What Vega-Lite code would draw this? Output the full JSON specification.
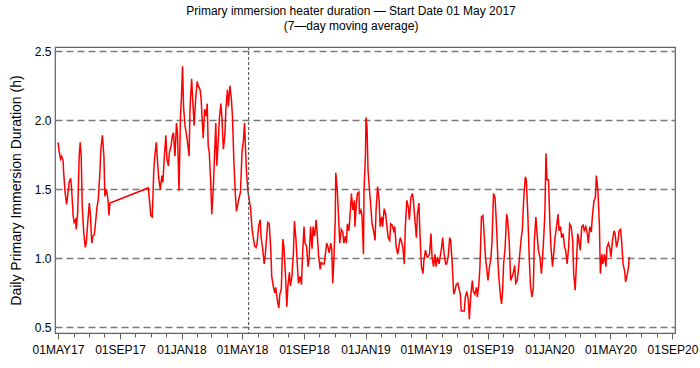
{
  "$schema": "https://vega.github.io/schema/vega-lite/v6.json",
  "autosize": "none",
  "width": 620,
  "height": 286,
  "padding": {"left": 55, "top": 47, "right": 25, "bottom": 35},
  "background": "white",
  "config": {
    "view": {"stroke": "#606060", "strokeWidth": 1.2},
    "font": "Liberation Sans"
  },
  "title": {
    "text": ["Primary immersion heater duration — Start Date 01 May 2017", "(7—day moving average)"],
    "anchor": "middle",
    "dx": -14,
    "offset": 12,
    "fontSize": 12,
    "lineHeight": 15,
    "fontWeight": "normal",
    "font": "Liberation Sans Narrow, Liberation Sans",
    "color": "black"
  },
  "datasets": {
    "series": [
      {"date": "2017-05-01", "hours": 1.84}, {"date": "2017-05-03", "hours": 1.78}, {"date": "2017-05-06", "hours": 1.72},
      {"date": "2017-05-08", "hours": 1.74}, {"date": "2017-05-11", "hours": 1.71}, {"date": "2017-05-12", "hours": 1.63},
      {"date": "2017-05-15", "hours": 1.48}, {"date": "2017-05-18", "hours": 1.39}, {"date": "2017-05-20", "hours": 1.45},
      {"date": "2017-05-23", "hours": 1.55}, {"date": "2017-05-26", "hours": 1.58}, {"date": "2017-05-28", "hours": 1.50},
      {"date": "2017-05-31", "hours": 1.31}, {"date": "2017-06-02", "hours": 1.26}, {"date": "2017-06-05", "hours": 1.28},
      {"date": "2017-06-06", "hours": 1.21}, {"date": "2017-06-09", "hours": 1.33}, {"date": "2017-06-12", "hours": 1.74},
      {"date": "2017-06-14", "hours": 1.84}, {"date": "2017-06-16", "hours": 1.74}, {"date": "2017-06-18", "hours": 1.38},
      {"date": "2017-06-21", "hours": 1.19}, {"date": "2017-06-24", "hours": 1.08}, {"date": "2017-06-26", "hours": 1.11},
      {"date": "2017-06-29", "hours": 1.26}, {"date": "2017-07-02", "hours": 1.40}, {"date": "2017-07-04", "hours": 1.33},
      {"date": "2017-07-07", "hours": 1.11}, {"date": "2017-07-09", "hours": 1.16}, {"date": "2017-07-12", "hours": 1.17},
      {"date": "2017-07-15", "hours": 1.28}, {"date": "2017-07-17", "hours": 1.36}, {"date": "2017-07-20", "hours": 1.43},
      {"date": "2017-07-23", "hours": 1.62}, {"date": "2017-07-25", "hours": 1.79}, {"date": "2017-07-28", "hours": 1.89},
      {"date": "2017-07-31", "hours": 1.74}, {"date": "2017-08-02", "hours": 1.45}, {"date": "2017-08-05", "hours": 1.50},
      {"date": "2017-08-08", "hours": 1.43}, {"date": "2017-08-10", "hours": 1.31}, {"date": "2017-08-12", "hours": 1.40},
      {"date": "2017-10-27", "hours": 1.51}, {"date": "2017-10-30", "hours": 1.40}, {"date": "2017-11-01", "hours": 1.31},
      {"date": "2017-11-04", "hours": 1.30}, {"date": "2017-11-07", "hours": 1.64}, {"date": "2017-11-09", "hours": 1.74},
      {"date": "2017-11-12", "hours": 1.84}, {"date": "2017-11-15", "hours": 1.67}, {"date": "2017-11-17", "hours": 1.57},
      {"date": "2017-11-20", "hours": 1.50}, {"date": "2017-11-23", "hours": 1.60}, {"date": "2017-11-25", "hours": 1.55},
      {"date": "2017-11-28", "hours": 1.74}, {"date": "2017-12-01", "hours": 1.89}, {"date": "2017-12-03", "hours": 1.72},
      {"date": "2017-12-06", "hours": 1.67}, {"date": "2017-12-08", "hours": 1.77}, {"date": "2017-12-11", "hours": 1.81},
      {"date": "2017-12-14", "hours": 1.89}, {"date": "2017-12-16", "hours": 1.91}, {"date": "2017-12-19", "hours": 1.74},
      {"date": "2017-12-22", "hours": 1.98}, {"date": "2017-12-24", "hours": 1.91}, {"date": "2017-12-27", "hours": 1.49},
      {"date": "2017-12-30", "hours": 2.03}, {"date": "2018-01-01", "hours": 2.18}, {"date": "2018-01-03", "hours": 2.39},
      {"date": "2018-01-05", "hours": 2.10}, {"date": "2018-01-08", "hours": 1.96}, {"date": "2018-01-11", "hours": 1.89},
      {"date": "2018-01-13", "hours": 1.84}, {"date": "2018-01-16", "hours": 1.74}, {"date": "2018-01-18", "hours": 2.10},
      {"date": "2018-01-21", "hours": 2.30}, {"date": "2018-01-24", "hours": 2.10}, {"date": "2018-01-26", "hours": 1.96},
      {"date": "2018-01-29", "hours": 2.15}, {"date": "2018-02-01", "hours": 2.28}, {"date": "2018-02-03", "hours": 2.25},
      {"date": "2018-02-07", "hours": 2.22}, {"date": "2018-02-09", "hours": 2.15}, {"date": "2018-02-11", "hours": 2.00},
      {"date": "2018-02-13", "hours": 1.87}, {"date": "2018-02-16", "hours": 2.08}, {"date": "2018-02-19", "hours": 2.03},
      {"date": "2018-02-21", "hours": 2.12}, {"date": "2018-02-23", "hours": 1.81}, {"date": "2018-02-25", "hours": 1.77},
      {"date": "2018-02-28", "hours": 1.55}, {"date": "2018-03-02", "hours": 1.32}, {"date": "2018-03-05", "hours": 1.50},
      {"date": "2018-03-08", "hours": 1.79}, {"date": "2018-03-10", "hours": 1.98}, {"date": "2018-03-12", "hours": 1.67},
      {"date": "2018-03-14", "hours": 1.79}, {"date": "2018-03-17", "hours": 2.01}, {"date": "2018-03-20", "hours": 2.12},
      {"date": "2018-03-22", "hours": 2.03}, {"date": "2018-03-25", "hours": 1.79}, {"date": "2018-03-28", "hours": 1.89},
      {"date": "2018-03-30", "hours": 2.08}, {"date": "2018-04-02", "hours": 2.22}, {"date": "2018-04-04", "hours": 2.10},
      {"date": "2018-04-07", "hours": 2.25}, {"date": "2018-04-10", "hours": 2.15}, {"date": "2018-04-12", "hours": 2.03},
      {"date": "2018-04-15", "hours": 1.69}, {"date": "2018-04-18", "hours": 1.45}, {"date": "2018-04-20", "hours": 1.34},
      {"date": "2018-04-23", "hours": 1.40}, {"date": "2018-04-26", "hours": 1.45}, {"date": "2018-04-28", "hours": 1.48},
      {"date": "2018-05-01", "hours": 1.77}, {"date": "2018-05-04", "hours": 1.86}, {"date": "2018-05-06", "hours": 1.98},
      {"date": "2018-05-08", "hours": 1.79}, {"date": "2018-05-10", "hours": 1.62}, {"date": "2018-05-13", "hours": 1.48},
      {"date": "2018-05-15", "hours": 1.43}, {"date": "2018-05-18", "hours": 1.36}, {"date": "2018-05-21", "hours": 1.21},
      {"date": "2018-05-23", "hours": 1.16}, {"date": "2018-05-26", "hours": 1.09}, {"date": "2018-05-29", "hours": 1.08},
      {"date": "2018-05-31", "hours": 1.11}, {"date": "2018-06-03", "hours": 1.23}, {"date": "2018-06-06", "hours": 1.28},
      {"date": "2018-06-08", "hours": 1.15}, {"date": "2018-06-11", "hours": 1.07}, {"date": "2018-06-14", "hours": 0.96},
      {"date": "2018-06-16", "hours": 1.02}, {"date": "2018-06-19", "hours": 1.16}, {"date": "2018-06-21", "hours": 1.26},
      {"date": "2018-06-24", "hours": 1.25}, {"date": "2018-06-27", "hours": 1.07}, {"date": "2018-06-29", "hours": 0.87},
      {"date": "2018-07-02", "hours": 0.80}, {"date": "2018-07-05", "hours": 0.75}, {"date": "2018-07-07", "hours": 0.79},
      {"date": "2018-07-10", "hours": 0.70}, {"date": "2018-07-13", "hours": 0.64}, {"date": "2018-07-15", "hours": 0.74},
      {"date": "2018-07-18", "hours": 0.78}, {"date": "2018-07-21", "hours": 1.14}, {"date": "2018-07-23", "hours": 1.09},
      {"date": "2018-07-26", "hours": 0.90}, {"date": "2018-07-29", "hours": 0.65}, {"date": "2018-07-31", "hours": 0.80},
      {"date": "2018-08-03", "hours": 0.90}, {"date": "2018-08-05", "hours": 0.80}, {"date": "2018-08-08", "hours": 0.87},
      {"date": "2018-08-11", "hours": 1.04}, {"date": "2018-08-13", "hours": 1.27}, {"date": "2018-08-16", "hours": 1.14},
      {"date": "2018-08-19", "hours": 0.94}, {"date": "2018-08-21", "hours": 0.82}, {"date": "2018-08-24", "hours": 0.87},
      {"date": "2018-08-27", "hours": 0.81}, {"date": "2018-08-29", "hours": 1.02}, {"date": "2018-09-01", "hours": 1.23},
      {"date": "2018-09-03", "hours": 1.11}, {"date": "2018-09-06", "hours": 1.09}, {"date": "2018-09-09", "hours": 0.94},
      {"date": "2018-09-11", "hours": 0.99}, {"date": "2018-09-14", "hours": 1.23}, {"date": "2018-09-17", "hours": 1.07},
      {"date": "2018-09-19", "hours": 1.23}, {"date": "2018-09-22", "hours": 1.16}, {"date": "2018-09-25", "hours": 1.28},
      {"date": "2018-09-27", "hours": 1.19}, {"date": "2018-09-30", "hours": 1.02}, {"date": "2018-10-03", "hours": 0.92},
      {"date": "2018-10-05", "hours": 0.97}, {"date": "2018-10-08", "hours": 0.96}, {"date": "2018-10-11", "hours": 0.96},
      {"date": "2018-10-13", "hours": 1.02}, {"date": "2018-10-16", "hours": 1.11}, {"date": "2018-10-18", "hours": 1.09},
      {"date": "2018-10-21", "hours": 1.04}, {"date": "2018-10-24", "hours": 1.11}, {"date": "2018-10-26", "hours": 1.07},
      {"date": "2018-10-28", "hours": 0.82}, {"date": "2018-10-30", "hours": 0.97}, {"date": "2018-11-02", "hours": 1.28},
      {"date": "2018-11-03", "hours": 1.62}, {"date": "2018-11-06", "hours": 1.50}, {"date": "2018-11-09", "hours": 1.26},
      {"date": "2018-11-11", "hours": 1.11}, {"date": "2018-11-14", "hours": 1.21}, {"date": "2018-11-17", "hours": 1.19},
      {"date": "2018-11-19", "hours": 1.11}, {"date": "2018-11-22", "hours": 1.16}, {"date": "2018-11-24", "hours": 1.11},
      {"date": "2018-11-26", "hours": 1.25}, {"date": "2018-11-29", "hours": 1.20}, {"date": "2018-12-02", "hours": 1.34},
      {"date": "2018-12-04", "hours": 1.47}, {"date": "2018-12-07", "hours": 1.35}, {"date": "2018-12-10", "hours": 1.42},
      {"date": "2018-12-11", "hours": 1.23}, {"date": "2018-12-14", "hours": 1.40}, {"date": "2018-12-16", "hours": 1.47},
      {"date": "2018-12-19", "hours": 1.48}, {"date": "2018-12-20", "hours": 1.32}, {"date": "2018-12-23", "hours": 1.35},
      {"date": "2018-12-25", "hours": 1.31}, {"date": "2018-12-28", "hours": 1.03}, {"date": "2018-12-29", "hours": 1.49},
      {"date": "2019-01-01", "hours": 1.76}, {"date": "2019-01-02", "hours": 2.02}, {"date": "2019-01-04", "hours": 1.95},
      {"date": "2019-01-06", "hours": 1.64}, {"date": "2019-01-09", "hours": 1.49}, {"date": "2019-01-12", "hours": 1.35},
      {"date": "2019-01-14", "hours": 1.25}, {"date": "2019-01-17", "hours": 1.20}, {"date": "2019-01-20", "hours": 1.13},
      {"date": "2019-01-22", "hours": 1.35}, {"date": "2019-01-25", "hours": 1.52}, {"date": "2019-01-28", "hours": 1.42},
      {"date": "2019-01-30", "hours": 1.23}, {"date": "2019-02-02", "hours": 1.30}, {"date": "2019-02-04", "hours": 1.23},
      {"date": "2019-02-07", "hours": 1.36}, {"date": "2019-02-10", "hours": 1.32}, {"date": "2019-02-12", "hours": 1.25},
      {"date": "2019-02-15", "hours": 1.15}, {"date": "2019-02-18", "hours": 1.13}, {"date": "2019-02-20", "hours": 1.25},
      {"date": "2019-02-23", "hours": 1.24}, {"date": "2019-02-26", "hours": 1.20}, {"date": "2019-02-28", "hours": 1.23},
      {"date": "2019-03-03", "hours": 1.08}, {"date": "2019-03-06", "hours": 1.03}, {"date": "2019-03-08", "hours": 1.08},
      {"date": "2019-03-11", "hours": 1.15}, {"date": "2019-03-13", "hours": 1.13}, {"date": "2019-03-16", "hours": 1.08},
      {"date": "2019-03-19", "hours": 0.96}, {"date": "2019-03-21", "hours": 1.23}, {"date": "2019-03-24", "hours": 1.42},
      {"date": "2019-03-27", "hours": 1.37}, {"date": "2019-03-29", "hours": 1.28}, {"date": "2019-04-01", "hours": 1.44},
      {"date": "2019-04-04", "hours": 1.47}, {"date": "2019-04-06", "hours": 1.42}, {"date": "2019-04-09", "hours": 1.28},
      {"date": "2019-04-12", "hours": 1.15}, {"date": "2019-04-14", "hours": 1.32}, {"date": "2019-04-17", "hours": 1.40},
      {"date": "2019-04-19", "hours": 1.18}, {"date": "2019-04-22", "hours": 0.94}, {"date": "2019-04-25", "hours": 0.89},
      {"date": "2019-04-27", "hours": 0.99}, {"date": "2019-04-30", "hours": 1.06}, {"date": "2019-05-03", "hours": 1.01},
      {"date": "2019-05-05", "hours": 1.01}, {"date": "2019-05-08", "hours": 1.03}, {"date": "2019-05-11", "hours": 1.18},
      {"date": "2019-05-13", "hours": 1.01}, {"date": "2019-05-16", "hours": 0.94}, {"date": "2019-05-19", "hours": 1.03},
      {"date": "2019-05-21", "hours": 0.94}, {"date": "2019-05-24", "hours": 1.01}, {"date": "2019-05-27", "hours": 0.96},
      {"date": "2019-05-29", "hours": 1.01}, {"date": "2019-06-01", "hours": 1.08}, {"date": "2019-06-03", "hours": 1.15},
      {"date": "2019-06-06", "hours": 1.03}, {"date": "2019-06-09", "hours": 0.96}, {"date": "2019-06-11", "hours": 0.96},
      {"date": "2019-06-14", "hours": 1.01}, {"date": "2019-06-17", "hours": 1.15}, {"date": "2019-06-19", "hours": 1.13},
      {"date": "2019-06-22", "hours": 0.96}, {"date": "2019-06-25", "hours": 0.74}, {"date": "2019-06-27", "hours": 0.76},
      {"date": "2019-06-30", "hours": 0.81}, {"date": "2019-07-03", "hours": 0.82}, {"date": "2019-07-05", "hours": 0.79},
      {"date": "2019-07-08", "hours": 0.74}, {"date": "2019-07-10", "hours": 0.62}, {"date": "2019-07-13", "hours": 0.62},
      {"date": "2019-07-16", "hours": 0.62}, {"date": "2019-07-18", "hours": 0.72}, {"date": "2019-07-21", "hours": 0.76},
      {"date": "2019-07-24", "hours": 0.70}, {"date": "2019-07-26", "hours": 0.56}, {"date": "2019-07-29", "hours": 0.74},
      {"date": "2019-08-01", "hours": 0.84}, {"date": "2019-08-03", "hours": 0.76}, {"date": "2019-08-06", "hours": 0.74},
      {"date": "2019-08-09", "hours": 0.79}, {"date": "2019-08-11", "hours": 0.72}, {"date": "2019-08-14", "hours": 0.82},
      {"date": "2019-08-16", "hours": 0.94}, {"date": "2019-08-19", "hours": 1.30}, {"date": "2019-08-22", "hours": 1.31},
      {"date": "2019-08-24", "hours": 1.20}, {"date": "2019-08-27", "hours": 1.01}, {"date": "2019-08-30", "hours": 0.91},
      {"date": "2019-09-01", "hours": 0.84}, {"date": "2019-09-04", "hours": 0.94}, {"date": "2019-09-07", "hours": 1.01},
      {"date": "2019-09-09", "hours": 1.13}, {"date": "2019-09-12", "hours": 1.47}, {"date": "2019-09-15", "hours": 1.44},
      {"date": "2019-09-18", "hours": 1.23}, {"date": "2019-09-21", "hours": 0.96}, {"date": "2019-09-23", "hours": 0.84},
      {"date": "2019-09-26", "hours": 0.72}, {"date": "2019-09-28", "hours": 0.67}, {"date": "2019-09-30", "hours": 0.77},
      {"date": "2019-10-02", "hours": 0.96}, {"date": "2019-10-05", "hours": 1.08}, {"date": "2019-10-08", "hours": 1.32},
      {"date": "2019-10-10", "hours": 1.28}, {"date": "2019-10-13", "hours": 1.13}, {"date": "2019-10-16", "hours": 0.84},
      {"date": "2019-10-18", "hours": 0.86}, {"date": "2019-10-21", "hours": 0.89}, {"date": "2019-10-24", "hours": 0.95},
      {"date": "2019-10-26", "hours": 0.82}, {"date": "2019-10-29", "hours": 0.84}, {"date": "2019-11-01", "hours": 0.94},
      {"date": "2019-11-03", "hours": 1.03}, {"date": "2019-11-06", "hours": 1.15}, {"date": "2019-11-08", "hours": 1.20},
      {"date": "2019-11-11", "hours": 1.44}, {"date": "2019-11-14", "hours": 1.59}, {"date": "2019-11-16", "hours": 1.57},
      {"date": "2019-11-19", "hours": 1.32}, {"date": "2019-11-22", "hours": 0.99}, {"date": "2019-11-24", "hours": 0.82},
      {"date": "2019-11-27", "hours": 0.72}, {"date": "2019-11-30", "hours": 0.79}, {"date": "2019-12-02", "hours": 1.13},
      {"date": "2019-12-05", "hours": 1.30}, {"date": "2019-12-08", "hours": 1.15}, {"date": "2019-12-10", "hours": 1.06},
      {"date": "2019-12-13", "hours": 1.01}, {"date": "2019-12-16", "hours": 0.89}, {"date": "2019-12-18", "hours": 0.99},
      {"date": "2019-12-21", "hours": 1.18}, {"date": "2019-12-23", "hours": 1.35}, {"date": "2019-12-25", "hours": 1.76},
      {"date": "2019-12-27", "hours": 1.57}, {"date": "2019-12-30", "hours": 1.57}, {"date": "2020-01-02", "hours": 1.23},
      {"date": "2020-01-04", "hours": 1.08}, {"date": "2020-01-07", "hours": 0.94}, {"date": "2020-01-10", "hours": 1.06},
      {"date": "2020-01-12", "hours": 1.15}, {"date": "2020-01-15", "hours": 1.23}, {"date": "2020-01-18", "hours": 1.32},
      {"date": "2020-01-20", "hours": 1.20}, {"date": "2020-01-23", "hours": 1.23}, {"date": "2020-01-25", "hours": 1.15},
      {"date": "2020-01-28", "hours": 1.18}, {"date": "2020-01-31", "hours": 1.08}, {"date": "2020-02-02", "hours": 1.06},
      {"date": "2020-02-05", "hours": 0.96}, {"date": "2020-02-08", "hours": 1.08}, {"date": "2020-02-10", "hours": 1.25},
      {"date": "2020-02-13", "hours": 1.23}, {"date": "2020-02-16", "hours": 1.13}, {"date": "2020-02-18", "hours": 0.89},
      {"date": "2020-02-21", "hours": 0.77}, {"date": "2020-02-24", "hours": 1.01}, {"date": "2020-02-26", "hours": 1.18},
      {"date": "2020-02-29", "hours": 1.11}, {"date": "2020-03-02", "hours": 1.06}, {"date": "2020-03-05", "hours": 1.23},
      {"date": "2020-03-08", "hours": 1.24}, {"date": "2020-03-10", "hours": 1.20}, {"date": "2020-03-13", "hours": 1.23},
      {"date": "2020-03-16", "hours": 1.18}, {"date": "2020-03-18", "hours": 1.11}, {"date": "2020-03-21", "hours": 1.23},
      {"date": "2020-03-24", "hours": 1.19}, {"date": "2020-03-26", "hours": 1.30}, {"date": "2020-03-29", "hours": 1.41},
      {"date": "2020-04-01", "hours": 1.44}, {"date": "2020-04-03", "hours": 1.60}, {"date": "2020-04-06", "hours": 1.49},
      {"date": "2020-04-09", "hours": 1.25}, {"date": "2020-04-11", "hours": 0.89}, {"date": "2020-04-14", "hours": 1.03},
      {"date": "2020-04-16", "hours": 0.96}, {"date": "2020-04-19", "hours": 1.03}, {"date": "2020-04-22", "hours": 0.94},
      {"date": "2020-04-24", "hours": 1.08}, {"date": "2020-04-27", "hours": 1.11}, {"date": "2020-04-30", "hours": 1.07},
      {"date": "2020-05-02", "hours": 1.01}, {"date": "2020-05-05", "hours": 1.13}, {"date": "2020-05-08", "hours": 1.20},
      {"date": "2020-05-10", "hours": 1.18}, {"date": "2020-05-13", "hours": 1.08}, {"date": "2020-05-16", "hours": 1.13},
      {"date": "2020-05-18", "hours": 1.20}, {"date": "2020-05-21", "hours": 1.21}, {"date": "2020-05-23", "hours": 1.13},
      {"date": "2020-05-26", "hours": 0.96}, {"date": "2020-05-29", "hours": 0.91}, {"date": "2020-05-31", "hours": 0.83},
      {"date": "2020-06-03", "hours": 0.88}, {"date": "2020-06-06", "hours": 0.94}, {"date": "2020-06-07", "hours": 1.01}
    ],
    "refline": [{"date": "2018-05-14"}]
  },
  "layer": [
    {
      "data": {"name": "series"},
      "mark": {"type": "line", "color": "#ff0000", "strokeWidth": 1.5, "interpolate": "linear"},
      "encoding": {
        "x": {
          "field": "date", "type": "temporal",
          "scale": {"type": "utc", "domain": [{"year": 2017, "month": 4, "date": 25, "utc": true}, {"year": 2020, "month": 9, "date": 6, "utc": true}]},
          "axis": {
            "title": null,
            "values": [
              {"year": 2017, "month": 5, "date": 1, "utc": true}, {"year": 2017, "month": 9, "date": 1, "utc": true},
              {"year": 2018, "month": 1, "date": 1, "utc": true}, {"year": 2018, "month": 5, "date": 1, "utc": true},
              {"year": 2018, "month": 9, "date": 1, "utc": true}, {"year": 2019, "month": 1, "date": 1, "utc": true},
              {"year": 2019, "month": 5, "date": 1, "utc": true}, {"year": 2019, "month": 9, "date": 1, "utc": true},
              {"year": 2020, "month": 1, "date": 1, "utc": true}, {"year": 2020, "month": 5, "date": 1, "utc": true},
              {"year": 2020, "month": 9, "date": 1, "utc": true}
            ],
            "labelExpr": "upper(utcFormat(datum.value, '%d%b%y'))",
            "labelFont": "Liberation Sans Narrow, Liberation Sans",
            "labelFontSize": 12,
            "labelColor": "black",
            "labelPadding": 5,
            "labelFlush": false,
            "labelOverlap": false,
            "tickSize": 6,
            "tickColor": "#606060",
            "domainColor": "#606060",
            "grid": false
          }
        },
        "y": {
          "field": "hours", "type": "quantitative",
          "scale": {"domain": [0.46, 2.53], "nice": false, "zero": false},
          "axis": {
            "title": "Daily Primary Immersion Duration (h)",
            "titleFont": "Liberation Sans",
            "titleFontSize": 14,
            "titleFontWeight": "normal",
            "titleColor": "black",
            "titlePadding": 11,
            "values": [0.5, 1.0, 1.5, 2.0, 2.5],
            "format": ".1f",
            "labelFont": "Liberation Sans",
            "labelFontSize": 12,
            "labelColor": "black",
            "labelPadding": 4,
            "tickSize": 0,
            "domain": false,
            "grid": true,
            "gridColor": "#7a7a7a",
            "gridWidth": 1.3,
            "gridDash": [7, 4]
          }
        }
      }
    },
    {
      "data": {"name": "refline"},
      "mark": {"type": "rule", "color": "#606060", "strokeWidth": 1.2, "strokeDash": [3, 2]},
      "encoding": {
        "x": {
          "field": "date", "type": "temporal",
          "scale": {"type": "utc"},
          "axis": {
            "orient": "bottom",
            "title": null,
            "labels": false,
            "domain": false,
            "grid": false,
            "tickSize": 4,
            "tickColor": "#606060",
            "values": [
              {"year": 2017, "month": 6, "date": 1, "utc": true}, {"year": 2017, "month": 7, "date": 1, "utc": true},
              {"year": 2017, "month": 8, "date": 1, "utc": true}, {"year": 2017, "month": 10, "date": 1, "utc": true},
              {"year": 2017, "month": 11, "date": 1, "utc": true}, {"year": 2017, "month": 12, "date": 1, "utc": true},
              {"year": 2018, "month": 2, "date": 1, "utc": true}, {"year": 2018, "month": 3, "date": 1, "utc": true},
              {"year": 2018, "month": 4, "date": 1, "utc": true}, {"year": 2018, "month": 6, "date": 1, "utc": true},
              {"year": 2018, "month": 7, "date": 1, "utc": true}, {"year": 2018, "month": 8, "date": 1, "utc": true},
              {"year": 2018, "month": 10, "date": 1, "utc": true}, {"year": 2018, "month": 11, "date": 1, "utc": true},
              {"year": 2018, "month": 12, "date": 1, "utc": true}, {"year": 2019, "month": 2, "date": 1, "utc": true},
              {"year": 2019, "month": 3, "date": 1, "utc": true}, {"year": 2019, "month": 4, "date": 1, "utc": true},
              {"year": 2019, "month": 6, "date": 1, "utc": true}, {"year": 2019, "month": 7, "date": 1, "utc": true},
              {"year": 2019, "month": 8, "date": 1, "utc": true}, {"year": 2019, "month": 10, "date": 1, "utc": true},
              {"year": 2019, "month": 11, "date": 1, "utc": true}, {"year": 2019, "month": 12, "date": 1, "utc": true},
              {"year": 2020, "month": 2, "date": 1, "utc": true}, {"year": 2020, "month": 3, "date": 1, "utc": true},
              {"year": 2020, "month": 4, "date": 1, "utc": true}, {"year": 2020, "month": 6, "date": 1, "utc": true},
              {"year": 2020, "month": 7, "date": 1, "utc": true}, {"year": 2020, "month": 8, "date": 1, "utc": true}
            ]
          }
        }
      }
    }
  ],
  "resolve": {"axis": {"x": "independent"}}
}
